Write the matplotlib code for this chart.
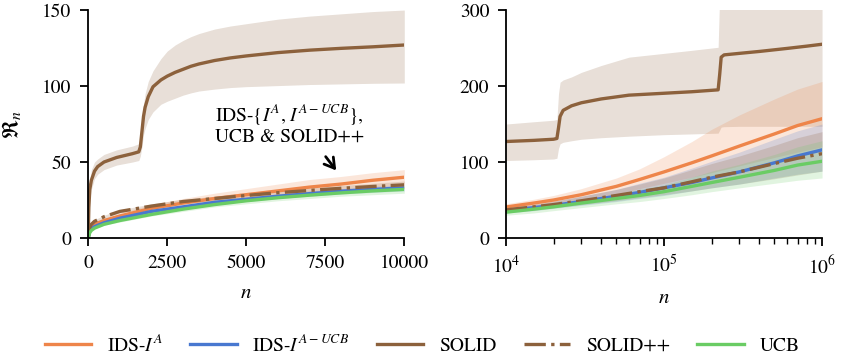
import numpy as np
import matplotlib
matplotlib.use("Agg")
import matplotlib.pyplot as plt

plt.rcParams['font.family'] = ['STIXGeneral', 'DejaVu Serif']
plt.rcParams['mathtext.fontset'] = 'stix'
plt.rcParams['font.size'] = 14

C_ORANGE = '#EE854A'
C_BLUE = '#4878D0'
C_BROWN = '#8C613C'
C_GREEN = '#6ACC64'

# ---------------- left panel data ----------------
n_left = [0, 50, 100, 200, 500, 1000, 2000, 3000, 4000, 5000, 6000, 7000, 8000, 9000, 10000]
ids_a_left = [0, 6, 7.5, 9, 11.5, 14.5, 19.5, 23, 26, 28.5, 31, 33.5, 35.5, 38, 40]
ids_a_left_lo = [0, 5, 6.5, 8, 10, 13, 17.5, 20.5, 23, 25.5, 27.5, 29.5, 31.5, 33.5, 35]
ids_a_left_hi = [0, 7, 8.5, 10, 13, 16.5, 22, 26, 29.5, 32.5, 35.5, 38.5, 40.5, 43, 45]
ids_aucb_left = [0, 5, 6, 7.5, 10, 13, 17.5, 20.5, 23.5, 25.5, 27.5, 29.2, 30.8, 32, 33]
ids_aucb_left_lo = [0, 4.5, 5.5, 7, 9, 12, 16.5, 19.5, 22, 24, 26, 27.5, 29, 30, 31]
ids_aucb_left_hi = [0, 5.5, 6.5, 8, 11, 14, 18.5, 21.5, 25, 27, 29, 31, 32.5, 34, 35]
solidpp_left = [0, 7, 9, 11, 14, 17.5, 21, 24, 26, 28, 29.8, 31.3, 32.7, 33.9, 35]
solidpp_left_lo = [0, 6, 8, 10, 13, 16.5, 19.5, 22.5, 24.5, 26, 28, 29.5, 30.5, 31.5, 32.5]
solidpp_left_hi = [0, 8, 10, 12, 15, 18.5, 22.5, 25.5, 27.5, 30, 31.5, 33, 34.5, 36, 37.5]
ucb_left = [0, 3.5, 5, 6.5, 9, 11.5, 15.5, 19, 22, 24.5, 26.5, 28.2, 29.7, 31, 32]
ucb_left_lo = [0, 3, 4.5, 6, 8.5, 10.5, 14.5, 17.5, 20.5, 22.5, 24.5, 26, 27.5, 28.5, 29.5]
ucb_left_hi = [0, 4, 5.5, 7, 9.5, 12.5, 16.5, 20.5, 23.5, 26, 28, 30, 31.5, 33, 34]

n_solid_left = [0, 20, 50, 100, 200, 300, 500, 900, 1400, 1600, 1650, 1700, 1750, 1800, 1900,
                2050, 2300, 2500, 2750, 3000, 3250, 3500, 4000, 4500, 5000, 6000, 7000, 8000,
                9000, 10000]
solid_left = [0, 20, 32, 38, 44, 47, 50, 53, 55.5, 56.7, 60, 70, 80, 86, 93,
              99.5, 104, 106.5, 109, 111, 113, 114.5, 116.8, 118.5, 119.8, 122, 123.6, 124.8,
              125.8, 127]
solid_left_lo = [0, 12, 25, 32, 39, 42, 45, 48, 50, 51, 54, 60, 68, 72, 78,
                 83, 88, 90, 92, 94, 95.5, 96.7, 98, 99, 99.6, 100.3, 101, 101.4, 101.8, 102]
solid_left_hi = [0, 28, 38, 45, 50, 52, 55, 58, 60.5, 62, 66, 78, 88, 95, 103,
                 110, 118, 123, 127, 130, 132.5, 134.5, 137.5, 139.5, 141, 144, 146, 147.5,
                 149, 150]

# ---------------- right panel data ----------------
n_right = [1e4, 1.5e4, 2e4, 3e4, 5e4, 7e4, 1e5, 1.5e5, 2e5, 3e5, 5e5, 7e5, 1e6]
ids_a_right = [40.8, 46, 50, 57, 68, 77, 87, 99, 108, 121, 137, 148, 157]
ids_a_right_lo = [37, 41, 44, 50, 58, 65, 72, 80, 86, 95, 106, 113, 120]
ids_a_right_hi = [45, 51, 56, 65, 79, 91, 107, 127, 143, 162, 183, 196, 206]
ids_aucb_right = [36, 40, 43, 48, 55, 60, 66, 73, 79, 87, 99, 108, 116]
ids_aucb_right_lo = [33, 36, 39, 43, 48, 52, 56, 62, 66, 71, 79, 84, 88]
ids_aucb_right_hi = [39, 44, 48, 55, 64, 72, 80, 92, 101, 113, 130, 141, 150]
solidpp_right = [37, 41, 44, 49, 56, 61, 66, 74, 80, 87, 98, 105, 111]
solidpp_right_lo = [34, 37, 40, 44, 49, 53, 57, 62, 66, 71, 78, 83, 88]
solidpp_right_hi = [40, 45, 49, 55, 64, 71, 79, 90, 98, 108, 122, 132, 140]
ucb_right = [34, 38, 41, 46, 52, 56, 61, 68, 73, 80, 89, 96, 101]
ucb_right_lo = [30, 33, 36, 40, 45, 48, 52, 57, 61, 66, 72, 76, 79]
ucb_right_hi = [37, 41, 45, 51, 58, 64, 70, 80, 88, 97, 110, 120, 128]

n_solid_right = [1e4, 1.5e4, 2e4, 2.1e4, 2.15e4, 2.2e4, 2.3e4, 2.6e4, 3e4, 4e4, 6e4, 1e5, 1.5e5,
                 2.2e5, 2.25e5, 2.3e5, 2.4e5, 3e5, 4e5, 6e5, 8e5, 1e6]
solid_right = [127, 128.5, 130, 131, 145, 160, 168, 174, 178, 183, 188, 190.5, 192.5,
               195, 215, 238, 241, 243, 245.5, 249.5, 252.5, 255]
solid_right_lo = [102, 103, 104, 105, 118, 124, 126, 128, 130, 132, 134, 136, 137,
                  138, 142, 146, 146.5, 147, 147, 147, 147, 147]
solid_right_hi = [150, 153, 155, 156, 190, 205, 208, 212, 218, 227, 238, 243, 247,
                  251, 320, 320, 320, 320, 320, 320, 320, 320]

labels = ['IDS-$I^A$', 'IDS-$I^{A-UCB}$', 'SOLID', 'SOLID++', 'UCB']

fig = plt.figure(figsize=(8.44, 3.59), dpi=100)
axL = fig.add_axes([0.1045, 0.337, 0.3745, 0.635])
axR = fig.add_axes([0.5995, 0.337, 0.3745, 0.635])

LW = 2.4
A = 0.2

def draw(ax, n, series, n_s, solid):
    (ia, ial, iah), (ib, ibl, ibh), (sp, spl, sph), (u, ul, uh) = series
    s, sl, sh = solid
    ax.fill_between(n_s, sl, sh, color=C_BROWN, alpha=A, lw=0)
    ax.fill_between(n, ial, iah, color=C_ORANGE, alpha=A, lw=0)
    ax.fill_between(n, ibl, ibh, color=C_BLUE, alpha=A, lw=0)
    ax.fill_between(n, spl, sph, color=C_BROWN, alpha=A, lw=0)
    ax.fill_between(n, ul, uh, color=C_GREEN, alpha=A, lw=0)
    h1, = ax.plot(n, ia, color=C_ORANGE, lw=LW)
    h2, = ax.plot(n, ib, color=C_BLUE, lw=LW)
    h3, = ax.plot(n_s, s, color=C_BROWN, lw=LW)
    h4, = ax.plot(n, sp, color=C_BROWN, lw=LW, ls='-.')
    h5, = ax.plot(n, u, color=C_GREEN, lw=LW)
    return [h1, h2, h3, h4, h5]

handles = draw(axL, n_left,
               [(ids_a_left, ids_a_left_lo, ids_a_left_hi),
                (ids_aucb_left, ids_aucb_left_lo, ids_aucb_left_hi),
                (solidpp_left, solidpp_left_lo, solidpp_left_hi),
                (ucb_left, ucb_left_lo, ucb_left_hi)],
               n_solid_left, (solid_left, solid_left_lo, solid_left_hi))
draw(axR, n_right,
     [(ids_a_right, ids_a_right_lo, ids_a_right_hi),
      (ids_aucb_right, ids_aucb_right_lo, ids_aucb_right_hi),
      (solidpp_right, solidpp_right_lo, solidpp_right_hi),
      (ucb_right, ucb_right_lo, ucb_right_hi)],
     n_solid_right, (solid_right, solid_right_lo, solid_right_hi))

axL.set_xlim(0, 10000)
axL.set_ylim(0, 150)
axL.set_xticks([0, 2500, 5000, 7500, 10000])
axL.set_yticks([0, 50, 100, 150])
axR.set_xscale('log')
axR.set_xlim(1e4, 1e6)
axR.set_ylim(0, 300)
axR.set_yticks([0, 100, 200, 300])

for ax in (axL, axR):
    for sp in ('top', 'right'):
        ax.spines[sp].set_visible(False)
    for sp in ('left', 'bottom'):
        ax.spines[sp].set_linewidth(1.3)
    ax.tick_params(which='major', length=6, width=1.3, labelsize=14, pad=6)
    ax.tick_params(which='minor', length=4, width=1.0)
    ax.set_xlabel('$n$', fontsize=15, labelpad=8)

axL.set_ylabel(r'$\Re_n$', fontsize=16, labelpad=14)

axL.annotate('', xy=(7900, 43), xytext=(7460, 55),
             arrowprops=dict(arrowstyle='->,head_length=0.5,head_width=0.3',
                             color='black', lw=2.0))
axL.text(4000, 75, 'IDS-$\\{I^A$, $I^{A-UCB}\\}$,\nUCB & SOLID++', fontsize=14,
         ha='left', va='center', linespacing=1.1)

fig.legend(handles, labels, loc='center', bbox_to_anchor=(0.5, 0.04), ncol=5,
           frameon=False, fontsize=14, handlelength=2.4, handletextpad=0.8,
           columnspacing=1.4)

fig.savefig('out.png', dpi=100)
